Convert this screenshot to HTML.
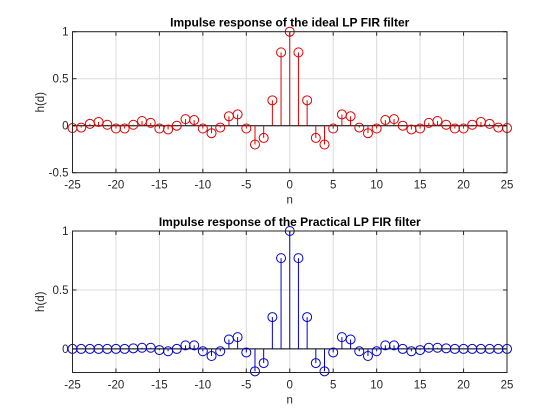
<!DOCTYPE html>
<html><head><meta charset="utf-8"><style>
html,body{margin:0;padding:0;background:#fff;}
svg{display:block;font-family:"Liberation Sans",Arial,sans-serif;}
</style></head><body>
<svg id="fig" width="560" height="420" viewBox="0 0 560 420"></svg>
<script>
const nVals = [];
for (let i = -25; i <= 25; i++) nVals.push(i);
const idealHalf = [1,0.78,0.27,-0.13,-0.20,-0.03,0.12,0.10,-0.02,-0.08,-0.03,0.06,0.07,0.0,-0.04,-0.03,0.03,0.05,0.01,-0.03,-0.03,0.01,0.04,0.02,-0.02,-0.025];
const practHalf = [1,0.77,0.27,-0.12,-0.19,-0.03,0.10,0.08,-0.02,-0.06,-0.02,0.03,0.03,0.0,-0.02,-0.01,0.01,0.01,0.005,0,0,0,0,0,0,0];
const xTicks = [-25,-20,-15,-10,-5,0,5,10,15,20,25];
const yTicks1 = [-0.5,0,0.5,1];
const yTicks2 = [0,0.5,1];
const NS='http://www.w3.org/2000/svg';
const svg=document.getElementById('fig');
function mk(tag,attrs,parent){const e=document.createElementNS(NS,tag);for(const k in attrs)e.setAttribute(k,attrs[k]);(parent||svg).appendChild(e);return e;}
function full(half){return nVals.map(n=>half[Math.abs(n)]);}
function panel(opts){
  const {x0,x1,yTop,yBot,ymin,ymax,yTicks,vals,color,title,name}=opts;
  const g=mk('g',{});
  
  
  const sx=v=>x0+(v+25)/50*(x1-x0);
  const sy=v=>yBot-(v-ymin)/(ymax-ymin)*(yBot-yTop);
  mk('rect',{x:x0,y:yTop,width:x1-x0,height:yBot-yTop,fill:'#fff'},g);
  xTicks.forEach(t=>{
    const l=mk('line',{x1:sx(t),x2:sx(t),y1:yTop,y2:yBot,stroke:'#dcdcdc','stroke-width':1},g);
    
    mk('line',{x1:sx(t),x2:sx(t),y1:yBot,y2:yBot-4,stroke:'#262626'},g);
    mk('line',{x1:sx(t),x2:sx(t),y1:yTop,y2:yTop+4,stroke:'#262626'},g);
    const tx=mk('text',{x:sx(t),y:yBot+16,'font-size':11.5,'text-anchor':'middle',fill:'#262626'},g);
    tx.textContent=t;
    
  });
  yTicks.forEach(t=>{
    mk('line',{x1:x0,x2:x1,y1:sy(t),y2:sy(t),stroke:'#dcdcdc','stroke-width':1},g);
    mk('line',{x1:x0,x2:x0+4,y1:sy(t),y2:sy(t),stroke:'#262626'},g);
    mk('line',{x1:x1,x2:x1-4,y1:sy(t),y2:sy(t),stroke:'#262626'},g);
    const tx=mk('text',{x:x0-4,y:sy(t)+4,'font-size':11.5,'text-anchor':'end',fill:'#262626'},g);
    tx.textContent=String(t);
    
  });
  mk('line',{x1:x0,x2:x1,y1:sy(0),y2:sy(0),stroke:'#000','stroke-width':1},g);
  nVals.forEach((n,i)=>{
    const v=vals[i];
    const s=mk('line',{x1:sx(n),x2:sx(n),y1:sy(0),y2:sy(v),stroke:color,'stroke-width':1},g);
    
    const c=mk('circle',{cx:sx(n),cy:sy(v),r:4.5,fill:'none',stroke:color,'stroke-width':1},g);
    
  });
  mk('rect',{x:x0,y:yTop,width:x1-x0,height:yBot-yTop,fill:'none',stroke:'#262626','stroke-width':1},g);
  const tt=mk('text',{x:(x0+x1)/2,y:yTop-5,'font-size':12,'font-weight':'bold','text-anchor':'middle',fill:'#000'},g);
  tt.textContent=title;
  const xl=mk('text',{x:(x0+x1)/2,y:yBot+31,'font-size':11.5,'text-anchor':'middle',fill:'#262626'},g);
  xl.textContent='n';
  const cy=(yTop+yBot)/2;
  const yl=mk('text',{x:44,y:cy,'font-size':11.5,'text-anchor':'middle',fill:'#262626',transform:`rotate(-90 44 ${cy})`},g);
  yl.textContent='h(d)';
}
panel({x0:72.5,x1:507,yTop:31.7,yBot:172.7,ymin:-0.5,ymax:1,yTicks:yTicks1,vals:full(idealHalf),color:'#e00000',title:'Impulse response of the ideal LP FIR filter',name:'ideal-filter-plot'});
panel({x0:72.5,x1:507,yTop:231,yBot:372.5,ymin:-0.2,ymax:1,yTicks:yTicks2,vals:full(practHalf),color:'#0000d0',title:'Impulse response of the Practical LP FIR filter',name:'practical-filter-plot'});
</script>
</body></html>
